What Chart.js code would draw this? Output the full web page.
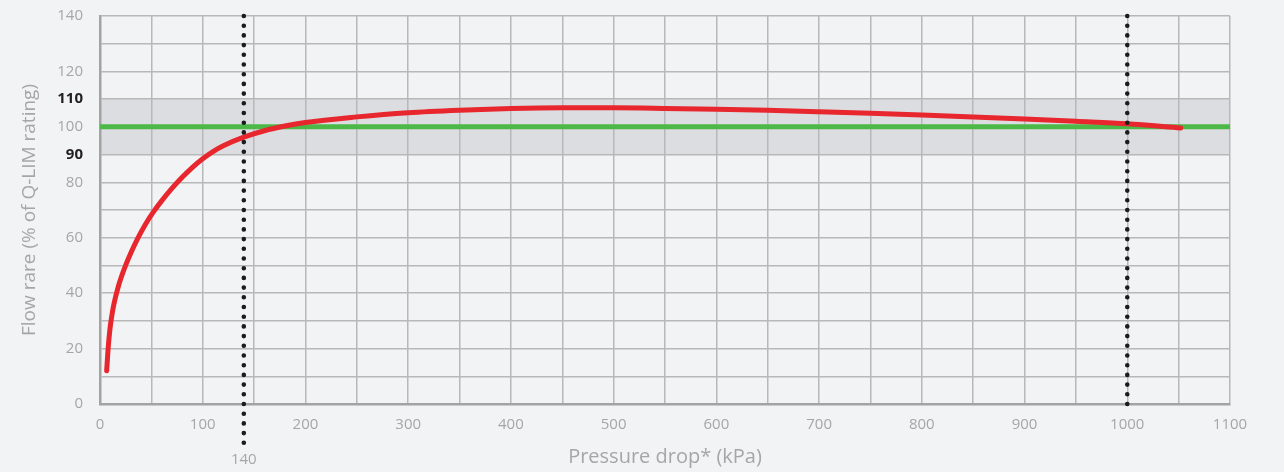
<!DOCTYPE html>
<html>
<head>
<meta charset="utf-8">
<script src="https://cdn.jsdelivr.net/npm/chart.js@4.4.1/dist/chart.umd.min.js"></script>
<style>
  html, body { margin: 0; padding: 0; background: #f2f3f5; }
  #wrap { width: 1284px; height: 472px; position: relative; }
</style>
</head>
<body>
<div id="wrap"><canvas id="flowChart"></canvas></div>
<script>
// pressure drop (kPa) vs flow rate (% of rating)
const pressureKpa = [6.5, 7.5, 8.5, 10, 12, 14, 17, 20, 25, 30, 36.5, 44, 52, 60, 70, 80, 90, 100, 110,
                     120, 140, 160, 180, 200, 250, 300, 350, 400, 450, 500, 550, 600, 650, 700, 750,
                     800, 850, 900, 950, 1000, 1052];
const flowPct = [12, 17.8, 22.6, 28, 33, 36.8, 41.3, 45, 50.1, 54.5, 59.6, 64.7, 69.3, 73.3, 77.8, 81.8, 85.4, 88.5, 91.1,
                 93.2, 96.3, 98.6, 100.3, 101.6, 103.6, 105.1, 106, 106.6, 106.85, 106.85, 106.65, 106.35, 105.95, 105.45, 104.9,
                 104.3, 103.6, 102.85, 102, 101.1, 99.6];

const nominalX = [0, 1100];
const nominalY = [100, 100];

const bandLow = 90;
const bandHigh = 110;
const markerLines = [140, 1000];

const yLabelled = [0, 20, 40, 60, 80, 90, 100, 110, 120, 140];
const yBold = [90, 110];

const tickGray = '#a6a6a6';
const fontFamily = "'Open Sans', 'Noto Sans', sans-serif";

function isBold(c) {
    return !!(c && c.tick && yBold.includes(c.tick.value));
}

document.addEventListener('DOMContentLoaded', function() {
    const ctx = document.getElementById('flowChart').getContext('2d');

    const bandPlugin = {
        id: 'band',
        beforeDraw(chart) {
            const { ctx, chartArea, scales } = chart;
            const top = scales.y.getPixelForValue(bandHigh);
            const bottom = scales.y.getPixelForValue(bandLow);
            ctx.save();
            ctx.fillStyle = '#dcdde0';
            ctx.fillRect(chartArea.left, top, chartArea.right - chartArea.left, bottom - top);
            ctx.restore();
        }
    };

    const markerPlugin = {
        id: 'markers',
        afterDatasetsDraw(chart) {
            const { ctx, chartArea, scales } = chart;
            ctx.save();
            ctx.strokeStyle = '#1c1c1c';
            ctx.lineWidth = 4.6;
            ctx.lineCap = 'round';
            ctx.setLineDash([0, 9.7]);
            markerLines.forEach(function(v, i) {
                const x = scales.x.getPixelForValue(v);
                const bottom = i === 0 ? chartArea.bottom + 44 : chartArea.bottom;
                ctx.beginPath();
                ctx.moveTo(x, chartArea.top);
                ctx.lineTo(x, bottom);
                ctx.stroke();
            });
            ctx.setLineDash([]);
            // extra label under the first marker
            const x0 = scales.x.getPixelForValue(markerLines[0]);
            ctx.fillStyle = tickGray;
            ctx.font = "15px " + fontFamily;
            ctx.textAlign = 'center';
            ctx.textBaseline = 'middle';
            ctx.fillText(String(markerLines[0]), x0, chartArea.bottom + 56);
            ctx.restore();
        }
    };

    new Chart(ctx, {
        type: 'line',
        data: {
            datasets: [
                {
                    label: 'Flow',
                    data: pressureKpa.map((p, i) => ({ x: p, y: flowPct[i] })),
                    borderColor: '#e8262d',
                    borderWidth: 5,
                    pointRadius: 0,
                    cubicInterpolationMode: 'monotone',
                    borderCapStyle: 'round',
                    borderJoinStyle: 'round',
                    fill: false
                },
                {
                    label: 'Nominal',
                    data: nominalX.map((p, i) => ({ x: p, y: nominalY[i] })),
                    borderColor: '#4cb848',
                    borderWidth: 5,
                    pointRadius: 0,
                    fill: false
                }
            ]
        },
        options: {
            responsive: true,
            maintainAspectRatio: false,
            animation: false,
            layout: {
                padding: { left: 0, right: 54, top: 16, bottom: 0 }
            },
            scales: {
                x: {
                    type: 'linear',
                    min: 0,
                    max: 1100,
                    afterFit: function(scale) {
                        scale.height = 68;
                        scale.paddingLeft = 0;
                        scale.paddingRight = 0;
                    },
                    ticks: {
                        stepSize: 50,
                        padding: 12,
                        color: tickGray,
                        font: { family: fontFamily, size: 15 },
                        maxRotation: 0,
                        autoSkip: false,
                        callback: function(v) { return v % 100 === 0 ? v : ''; }
                    },
                    grid: {
                        color: '#b8b8b8',
                        lineWidth: 1.5,
                        drawTicks: false
                    },
                    border: { color: '#a3a3a3', width: 2.5 },
                    title: {
                        display: true,
                        text: 'Pressure drop* (kPa)',
                        color: tickGray,
                        font: { family: fontFamily, size: 20 },
                        padding: { top: 0, bottom: 3 }
                    }
                },
                y: {
                    min: 0,
                    max: 140,
                    afterFit: function(scale) {
                        scale.width = 100;
                        scale.paddingTop = 0;
                        scale.paddingBottom = 0;
                    },
                    ticks: {
                        stepSize: 10,
                        padding: 17,
                        autoSkip: false,
                        color: function(c) { return isBold(c) ? '#231f20' : tickGray; },
                        font: function(c) {
                            return {
                                family: fontFamily,
                                size: 15,
                                weight: isBold(c) ? 'bold' : 'normal'
                            };
                        },
                        callback: function(v) { return yLabelled.includes(v) ? v : ''; }
                    },
                    grid: {
                        color: '#b8b8b8',
                        lineWidth: 1.5,
                        drawTicks: false
                    },
                    border: { color: '#a3a3a3', width: 2.5 },
                    title: {
                        display: true,
                        text: 'Flow rare (% of Q-LIM rating)',
                        color: tickGray,
                        font: { family: fontFamily, size: 19 },
                        padding: { top: 18, bottom: 0 }
                    }
                }
            },
            plugins: {
                legend: { display: false },
                tooltip: { enabled: false }
            }
        },
        plugins: [bandPlugin, markerPlugin]
    });
});
</script>
</body>
</html>
